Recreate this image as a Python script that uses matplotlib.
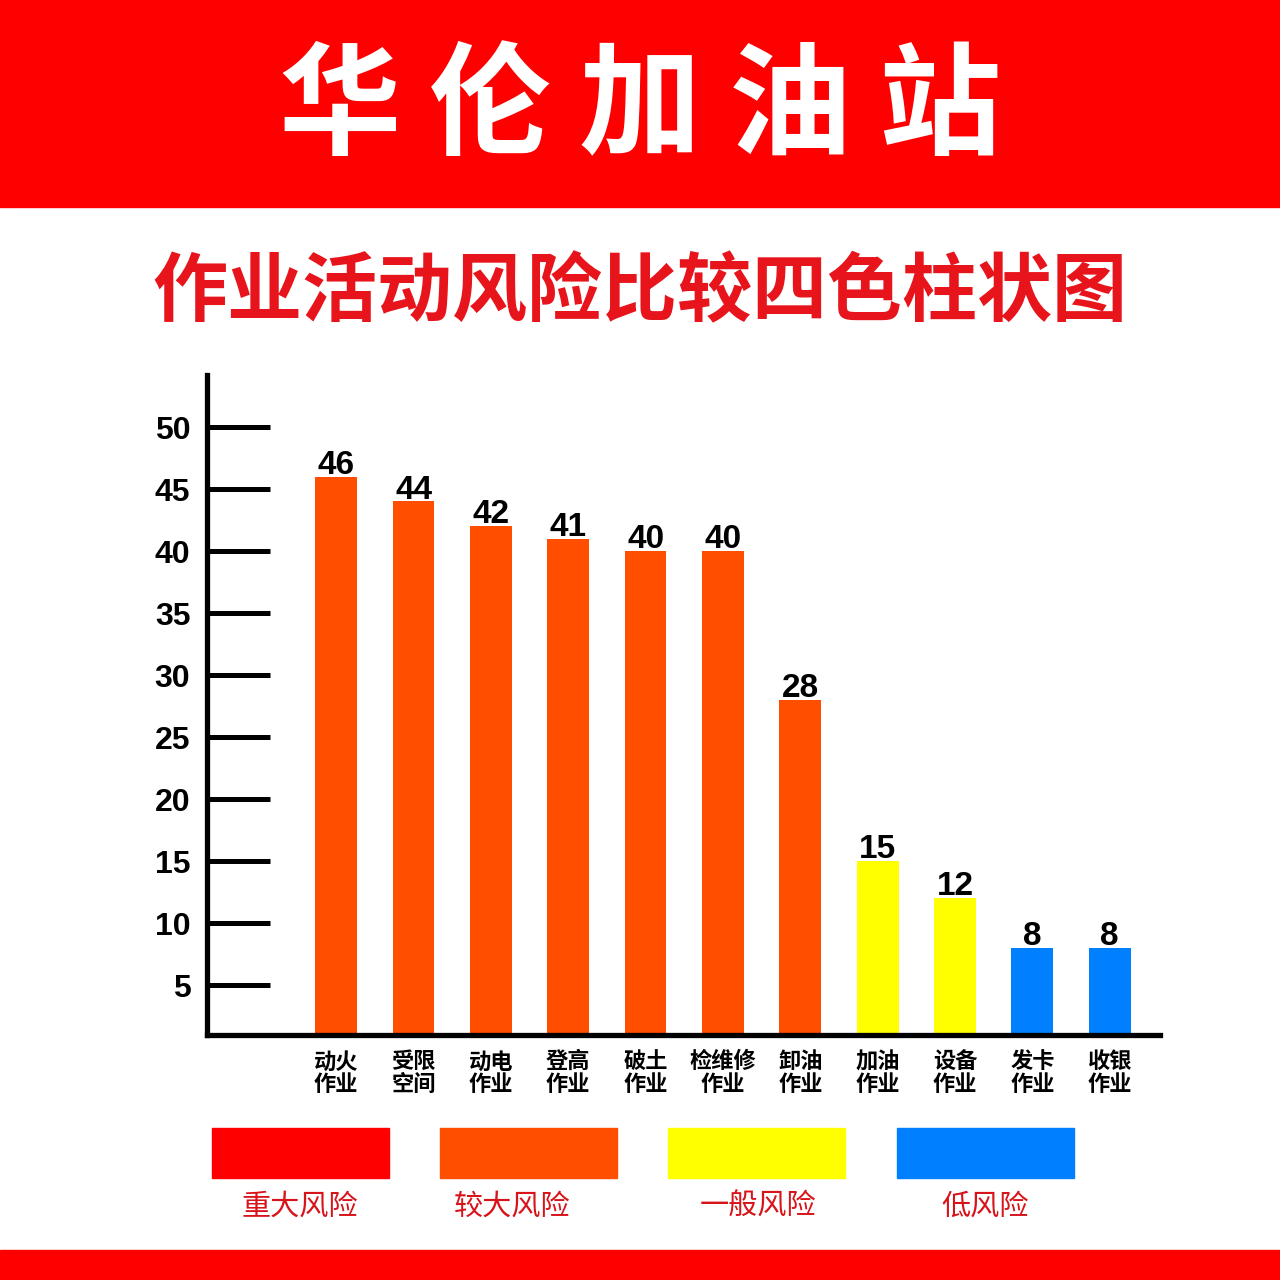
import matplotlib.pyplot as plt
from matplotlib.patches import Rectangle

# 数据
categories = ['动火\n作业', '受限\n空间', '动电\n作业', '登高\n作业', '破土\n作业', '检维修\n作业',
              '卸油\n作业', '加油\n作业', '设备\n作业', '发卡\n作业', '收银\n作业']
values = [46, 44, 42, 41, 40, 40, 28, 15, 12, 8, 8]
levels = [1, 1, 1, 1, 1, 1, 1, 2, 2, 3, 3]   # 0 重大 1 较大 2 一般 3 低
yticks = [5, 10, 15, 20, 25, 30, 35, 40, 45, 50]

level_names = ['重大风险', '较大风险', '一般风险', '低风险']
level_colors = ['#FF0000', '#FF4E00', '#FFFF00', '#0080FF']

cjk = ['Noto Sans CJK SC', 'DejaVu Sans']
num = ['Liberation Sans', 'DejaVu Sans']

fig = plt.figure(figsize=(12.8, 12.8), dpi=100)
fig.patch.set_facecolor('white')

# 顶部和底部红色条
fig.patches.append(Rectangle((0, 1 - 207 / 1280), 1, 207 / 1280, transform=fig.transFigure,
                             color='#FF0000', zorder=0))
fig.patches.append(Rectangle((0, 0), 1, 30 / 1280, transform=fig.transFigure,
                             color='#FF0000', zorder=0))

fig.text(0.5, 1 - 110 / 1280, '华 伦 加 油 站', color='white', fontsize=88, fontweight='heavy',
         family=cjk, ha='center', va='center')
fig.text(0.5, 1 - 293 / 1280, '作业活动风险比较四色柱状图', color='#E8141B', fontsize=54,
         fontweight='bold', family=cjk, ha='center', va='center')

# 柱状图
ax = fig.add_axes([207 / 1280, 1 - 1035 / 1280, (1160 - 207) / 1280, (1035 - 375) / 1280])
x = list(range(len(values)))
colors = [level_colors[l] for l in levels]
bars = ax.bar(x, values, width=0.54, color=colors, zorder=2)
ax.set_xlim(-1.67, 10.65)
ax.set_ylim(0.97, 54.2)

for spine in ['top', 'right']:
    ax.spines[spine].set_visible(False)
for spine in ['left', 'bottom']:
    ax.spines[spine].set_linewidth(3.8)
    ax.spines[spine].set_color('black')

ax.set_yticks(yticks)
ax.set_yticklabels([str(v) for v in yticks], fontsize=23, fontweight='bold', family=num)
ax.tick_params(axis='y', direction='in', length=45, width=3.6, pad=12)
ax.set_xticks(x)
ax.set_xticklabels(categories, fontsize=16, fontweight='bold', family=cjk, linespacing=1.0)
ax.tick_params(axis='x', length=0, pad=11)

for b, v in zip(bars, values):
    ax.annotate(str(v), (b.get_x() + b.get_width() / 2, v), xytext=(0, -3),
                textcoords='offset points', ha='center', va='bottom',
                fontsize=24, fontweight='bold', family=num)

# 图例
lx = [300, 528, 756, 985]
tx = [300, 512, 758, 985]
for i, name in enumerate(level_names):
    fig.patches.append(Rectangle(((lx[i] - 88) / 1280, 1 - 1178 / 1280), 177 / 1280, 50 / 1280,
                                 transform=fig.transFigure, color=level_colors[i]))
    fig.text(tx[i] / 1280, 1 - 1207 / 1280, name, color='#D7141A', fontsize=21,
             family=cjk, ha='center', va='center')

fig.savefig('out.png', dpi=100)
